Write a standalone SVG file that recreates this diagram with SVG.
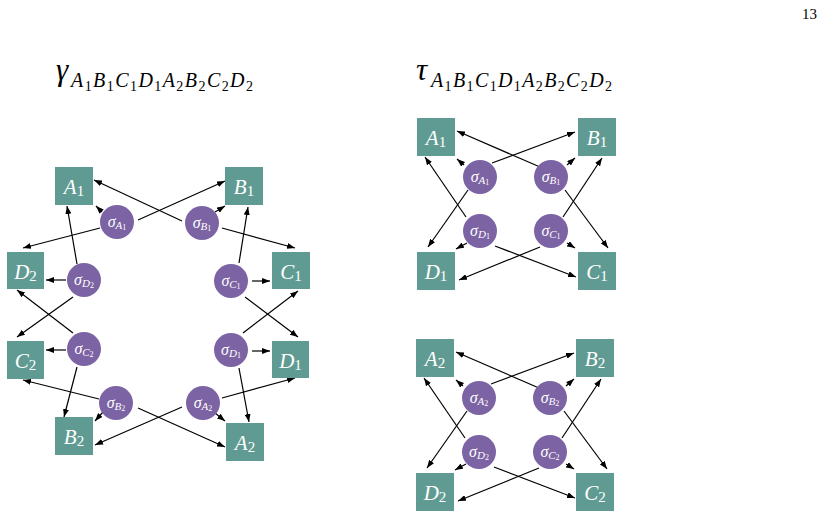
<svg xmlns="http://www.w3.org/2000/svg" width="825" height="517" viewBox="0 0 825 517">
  <style>
    .box { fill: #5f9b92; }
    .sig { fill: #7c63a3; }
    .bl { font-family: "Liberation Serif", "DejaVu Serif", serif; fill: #ffffff; font-size: 21px; font-style: italic; text-anchor: middle; }
    .sl { font-family: "Liberation Serif", "DejaVu Serif", serif; fill: #ffffff; font-size: 16px; font-style: italic; text-anchor: middle; }
    .up { font-style: normal; }
    .title { font-family: "Liberation Serif", "DejaVu Serif", serif; fill: #000000; font-style: italic; }
    .pg { font-family: "Liberation Serif", "DejaVu Serif", serif; fill: #000000; font-size: 15px; }
    .conn line { stroke: #000000; stroke-width: 1.2; marker-end: url(#ah); }
  </style>
  <defs>
    <marker id="ah" markerWidth="8" markerHeight="6" refX="8" refY="3" orient="auto" markerUnits="userSpaceOnUse">
      <path d="M0,0 L8,3 L0,6 Z" fill="#000000"/>
    </marker>
  </defs>
  <rect width="825" height="517" fill="#ffffff"/>

  <text class="pg" x="817" y="19" text-anchor="end">13</text>

  <!-- titles -->
  <text class="title" x="56" y="80" font-size="31">γ</text>
  <text class="title" x="71" y="87" font-size="20" textLength="182" lengthAdjust="spacing">A<tspan class="up" font-size="14" dy="4">1</tspan><tspan dy="-4">B</tspan><tspan class="up" font-size="14" dy="4">1</tspan><tspan dy="-4">C</tspan><tspan class="up" font-size="14" dy="4">1</tspan><tspan dy="-4">D</tspan><tspan class="up" font-size="14" dy="4">1</tspan><tspan dy="-4">A</tspan><tspan class="up" font-size="14" dy="4">2</tspan><tspan dy="-4">B</tspan><tspan class="up" font-size="14" dy="4">2</tspan><tspan dy="-4">C</tspan><tspan class="up" font-size="14" dy="4">2</tspan><tspan dy="-4">D</tspan><tspan class="up" font-size="14" dy="4">2</tspan></text>
  <text class="title" x="416" y="80" font-size="31">τ</text>
  <text class="title" x="431" y="87" font-size="20" textLength="181" lengthAdjust="spacing">A<tspan class="up" font-size="14" dy="4">1</tspan><tspan dy="-4">B</tspan><tspan class="up" font-size="14" dy="4">1</tspan><tspan dy="-4">C</tspan><tspan class="up" font-size="14" dy="4">1</tspan><tspan dy="-4">D</tspan><tspan class="up" font-size="14" dy="4">1</tspan><tspan dy="-4">A</tspan><tspan class="up" font-size="14" dy="4">2</tspan><tspan dy="-4">B</tspan><tspan class="up" font-size="14" dy="4">2</tspan><tspan dy="-4">C</tspan><tspan class="up" font-size="14" dy="4">2</tspan><tspan dy="-4">D</tspan><tspan class="up" font-size="14" dy="4">2</tspan></text>

  <!-- connectors -->
  <g id="connectors" class="conn">
    <!-- gamma ring -->
    <line x1="102" y1="212" x2="96" y2="206"/>
    <line x1="138" y1="220" x2="225" y2="181"/>
    <line x1="100" y1="228" x2="23" y2="248"/>
    <line x1="182" y1="221" x2="94" y2="180"/>
    <line x1="215" y1="212" x2="225" y2="206"/>
    <line x1="222" y1="228" x2="295" y2="248"/>
    <line x1="66" y1="280" x2="46" y2="280"/>
    <line x1="77" y1="264" x2="67" y2="206"/>
    <line x1="73" y1="297" x2="17" y2="337"/>
    <line x1="252" y1="281" x2="270" y2="281"/>
    <line x1="239" y1="263" x2="248" y2="207"/>
    <line x1="245" y1="297" x2="298" y2="337"/>
    <line x1="66" y1="350" x2="46" y2="350"/>
    <line x1="73" y1="333" x2="17" y2="290"/>
    <line x1="77" y1="367" x2="64" y2="417"/>
    <line x1="252" y1="351" x2="270" y2="351"/>
    <line x1="243" y1="333" x2="298" y2="291"/>
    <line x1="239" y1="368" x2="249" y2="422"/>
    <line x1="103" y1="412" x2="95" y2="421"/>
    <line x1="99" y1="399" x2="23" y2="380"/>
    <line x1="138" y1="408" x2="225" y2="447"/>
    <line x1="215" y1="413" x2="225" y2="421"/>
    <line x1="182" y1="407" x2="95" y2="445"/>
    <line x1="222" y1="398" x2="295" y2="378"/>
    <!-- tau, first square -->
    <line x1="464" y1="165" x2="457" y2="159"/>
    <line x1="492" y1="163" x2="575" y2="132"/>
    <line x1="468" y1="190" x2="428" y2="247"/>
    <line x1="540" y1="167" x2="457" y2="131"/>
    <line x1="567" y1="165" x2="575" y2="158"/>
    <line x1="565" y1="190" x2="608" y2="248"/>
    <line x1="466" y1="217" x2="425" y2="157"/>
    <line x1="467" y1="243" x2="456" y2="249"/>
    <line x1="495" y1="246" x2="576" y2="277"/>
    <line x1="563" y1="217" x2="602" y2="158"/>
    <line x1="567" y1="243" x2="575" y2="248"/>
    <line x1="540" y1="247" x2="459" y2="280"/>
    <!-- tau, second square -->
    <line x1="463" y1="386" x2="456" y2="380"/>
    <line x1="491" y1="384" x2="574" y2="353"/>
    <line x1="467" y1="411" x2="427" y2="468"/>
    <line x1="539" y1="388" x2="456" y2="352"/>
    <line x1="566" y1="386" x2="574" y2="379"/>
    <line x1="564" y1="411" x2="607" y2="469"/>
    <line x1="465" y1="438" x2="424" y2="378"/>
    <line x1="466" y1="464" x2="455" y2="470"/>
    <line x1="494" y1="467" x2="575" y2="498"/>
    <line x1="562" y1="438" x2="601" y2="379"/>
    <line x1="566" y1="464" x2="574" y2="469"/>
    <line x1="539" y1="468" x2="458" y2="501"/>
  </g>

  <!-- gamma: state boxes -->
  <g id="gA1"><rect class="box" x="55" y="167" width="38" height="38"/><text class="bl" x="74" y="194">A<tspan class="up" font-size="15" dy="2">1</tspan></text></g>
  <g id="gB1"><rect class="box" x="225" y="167" width="38" height="38"/><text class="bl" x="244" y="194">B<tspan class="up" font-size="15" dy="2">1</tspan></text></g>
  <g id="gD2"><rect class="box" x="7" y="252" width="37" height="37"/><text class="bl" x="25.5" y="279">D<tspan class="up" font-size="15" dy="2">2</tspan></text></g>
  <g id="gC1"><rect class="box" x="272" y="252" width="38" height="37"/><text class="bl" x="291" y="279">C<tspan class="up" font-size="15" dy="2">1</tspan></text></g>
  <g id="gC2"><rect class="box" x="7" y="341" width="37" height="38"/><text class="bl" x="25.5" y="368">C<tspan class="up" font-size="15" dy="2">2</tspan></text></g>
  <g id="gD1"><rect class="box" x="272" y="341" width="37" height="37"/><text class="bl" x="290.5" y="368">D<tspan class="up" font-size="15" dy="2">1</tspan></text></g>
  <g id="gB2"><rect class="box" x="55" y="417" width="38" height="38"/><text class="bl" x="74" y="444">B<tspan class="up" font-size="15" dy="2">2</tspan></text></g>
  <g id="gA2"><rect class="box" x="226" y="423" width="38" height="38"/><text class="bl" x="245" y="450">A<tspan class="up" font-size="15" dy="2">2</tspan></text></g>

  <!-- gamma: sigma nodes -->
  <g id="gsA1"><circle class="sig" cx="117" cy="222" r="17"/><text class="sl" x="117" y="227">σ<tspan font-size="11" dy="2">A</tspan><tspan class="up" font-size="8" dy="1">1</tspan></text></g>
  <g id="gsB1"><circle class="sig" cx="202" cy="223" r="17"/><text class="sl" x="202" y="228">σ<tspan font-size="11" dy="2">B</tspan><tspan class="up" font-size="8" dy="1">1</tspan></text></g>
  <g id="gsD2"><circle class="sig" cx="84" cy="280" r="17"/><text class="sl" x="84" y="285">σ<tspan font-size="11" dy="2">D</tspan><tspan class="up" font-size="8" dy="1">2</tspan></text></g>
  <g id="gsC1"><circle class="sig" cx="231" cy="281" r="17"/><text class="sl" x="231" y="286">σ<tspan font-size="11" dy="2">C</tspan><tspan class="up" font-size="8" dy="1">1</tspan></text></g>
  <g id="gsC2"><circle class="sig" cx="84" cy="349" r="17"/><text class="sl" x="84" y="354">σ<tspan font-size="11" dy="2">C</tspan><tspan class="up" font-size="8" dy="1">2</tspan></text></g>
  <g id="gsD1"><circle class="sig" cx="231" cy="350" r="17"/><text class="sl" x="231" y="355">σ<tspan font-size="11" dy="2">D</tspan><tspan class="up" font-size="8" dy="1">1</tspan></text></g>
  <g id="gsB2"><circle class="sig" cx="116" cy="403" r="17"/><text class="sl" x="116" y="408">σ<tspan font-size="11" dy="2">B</tspan><tspan class="up" font-size="8" dy="1">2</tspan></text></g>
  <g id="gsA2"><circle class="sig" cx="203" cy="403" r="17"/><text class="sl" x="203" y="408">σ<tspan font-size="11" dy="2">A</tspan><tspan class="up" font-size="8" dy="1">2</tspan></text></g>

  <!-- tau, first square: state boxes -->
  <g id="tA1"><rect class="box" x="417" y="118" width="38" height="38"/><text class="bl" x="436" y="145">A<tspan class="up" font-size="15" dy="2">1</tspan></text></g>
  <g id="tB1"><rect class="box" x="578" y="118" width="38" height="38"/><text class="bl" x="597" y="145">B<tspan class="up" font-size="15" dy="2">1</tspan></text></g>
  <g id="tD1"><rect class="box" x="417" y="252" width="38" height="38"/><text class="bl" x="436" y="279">D<tspan class="up" font-size="15" dy="2">1</tspan></text></g>
  <g id="tC1"><rect class="box" x="578" y="252" width="38" height="38"/><text class="bl" x="597" y="279">C<tspan class="up" font-size="15" dy="2">1</tspan></text></g>
  <!-- tau, first square: sigma nodes -->
  <g id="tsA1"><circle class="sig" cx="480" cy="177" r="17"/><text class="sl" x="480" y="182">σ<tspan font-size="11" dy="2">A</tspan><tspan class="up" font-size="8" dy="1">1</tspan></text></g>
  <g id="tsB1"><circle class="sig" cx="551" cy="177" r="17"/><text class="sl" x="551" y="182">σ<tspan font-size="11" dy="2">B</tspan><tspan class="up" font-size="8" dy="1">1</tspan></text></g>
  <g id="tsD1"><circle class="sig" cx="480" cy="231" r="17"/><text class="sl" x="480" y="236">σ<tspan font-size="11" dy="2">D</tspan><tspan class="up" font-size="8" dy="1">1</tspan></text></g>
  <g id="tsC1"><circle class="sig" cx="551" cy="231" r="17"/><text class="sl" x="551" y="236">σ<tspan font-size="11" dy="2">C</tspan><tspan class="up" font-size="8" dy="1">1</tspan></text></g>

  <!-- tau, second square: state boxes -->
  <g id="tA2"><rect class="box" x="416" y="339" width="38" height="38"/><text class="bl" x="435" y="366">A<tspan class="up" font-size="15" dy="2">2</tspan></text></g>
  <g id="tB2"><rect class="box" x="576" y="339" width="38" height="38"/><text class="bl" x="595" y="366">B<tspan class="up" font-size="15" dy="2">2</tspan></text></g>
  <g id="tD2"><rect class="box" x="416" y="473" width="38" height="38"/><text class="bl" x="435" y="500">D<tspan class="up" font-size="15" dy="2">2</tspan></text></g>
  <g id="tC2"><rect class="box" x="576" y="473" width="38" height="38"/><text class="bl" x="595" y="500">C<tspan class="up" font-size="15" dy="2">2</tspan></text></g>
  <!-- tau, second square: sigma nodes -->
  <g id="tsA2"><circle class="sig" cx="479" cy="398" r="17"/><text class="sl" x="479" y="403">σ<tspan font-size="11" dy="2">A</tspan><tspan class="up" font-size="8" dy="1">2</tspan></text></g>
  <g id="tsB2"><circle class="sig" cx="550" cy="398" r="17"/><text class="sl" x="550" y="403">σ<tspan font-size="11" dy="2">B</tspan><tspan class="up" font-size="8" dy="1">2</tspan></text></g>
  <g id="tsD2"><circle class="sig" cx="479" cy="452" r="17"/><text class="sl" x="479" y="457">σ<tspan font-size="11" dy="2">D</tspan><tspan class="up" font-size="8" dy="1">2</tspan></text></g>
  <g id="tsC2"><circle class="sig" cx="550" cy="452" r="17"/><text class="sl" x="550" y="457">σ<tspan font-size="11" dy="2">C</tspan><tspan class="up" font-size="8" dy="1">2</tspan></text></g>
</svg>
